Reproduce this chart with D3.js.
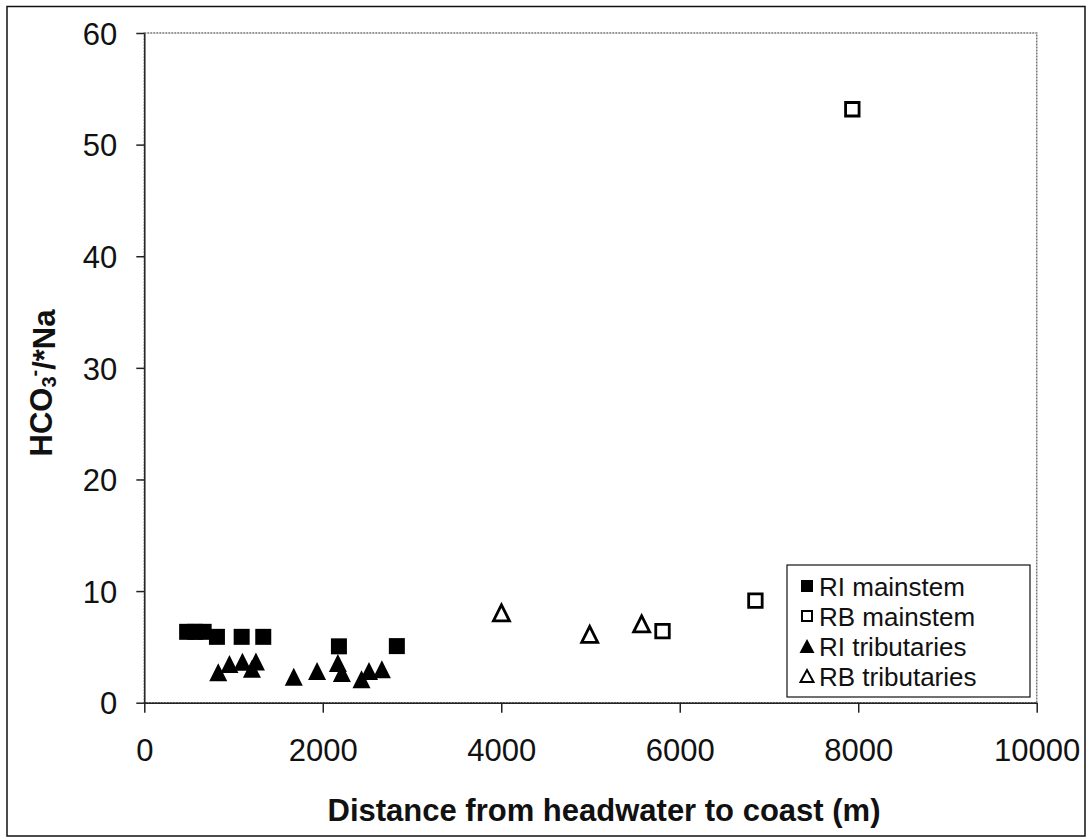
<!DOCTYPE html>
<html>
<head>
<meta charset="utf-8">
<script src="https://cdn.jsdelivr.net/npm/d3@7"></script>
<style>
  body { margin: 0; background: #fff; }
  svg { display: block; font-family: "Liberation Sans", Arial, sans-serif; }
  .axis path, .axis line { stroke: #222; stroke-width: 1.5; }
  .axis text { font-size: 31px; fill: #111; }
</style>
</head>
<body>
<div id="chart"></div>
<script>
// data: [distance (m), HCO3-/*Na]
var riMainstem = [[480, 6.35], [570, 6.35], [665, 6.35], [814, 5.9], [1091, 5.9], [1333, 5.9], [2181, 5.05], [2830, 5.07]];
var rbMainstem = [[5807, 6.42], [6848, 9.15], [7934, 53.17]];
var riTributaries = [[829, 2.72], [954, 3.46], [1100, 3.67], [1206, 3.04], [1251, 3.69], [1675, 2.32], [1936, 2.85],
    [2169, 3.55], [2214, 2.66], [2434, 2.1], [2518, 2.85], [2662, 3.0]];
var rbTributaries = [[4002, 8.05], [4991, 6.13], [5573, 7.06]];

var xTicks = [0, 2000, 4000, 6000, 8000, 10000];
var yTicks = [0, 10, 20, 30, 40, 50, 60];

var seriesNames = ["RI mainstem", "RB mainstem", "RI tributaries", "RB tributaries"];

function drawChart() {
    var W = 1092, H = 839;
    var margin = {top: 33, left: 144.3};
    var width = 892.4, height = 669.7;

    var svg = d3.select("#chart").append("svg")
        .attr("width", W)
        .attr("height", H);

    // outer chart border
    svg.append("rect")
        .attr("x", 7).attr("y", 6.5)
        .attr("width", 1078).attr("height", 829.5)
        .attr("fill", "#fff")
        .attr("stroke", "#111")
        .attr("stroke-width", 1.5);

    var g = svg.append("g")
        .attr("transform", "translate(" + margin.left + "," + margin.top + ")");

    var x = d3.scaleLinear().domain([0, 10000]).range([0, width]);
    var y = d3.scaleLinear().domain([0, 60]).range([height, 0]);

    // plot area border (dotted grey)
    g.append("rect")
        .attr("width", width).attr("height", height)
        .attr("fill", "none")
        .attr("stroke", "#777")
        .attr("stroke-width", 1.5)
        .attr("stroke-dasharray", "2,1");

    g.append("g")
        .attr("class", "axis")
        .call(d3.axisLeft(y).tickValues(yTicks).tickSize(8).tickSizeOuter(0).tickPadding(19))
        .selectAll("text").attr("dy", "0.36em");

    g.append("g")
        .attr("class", "axis")
        .attr("transform", "translate(0," + height + ")")
        .call(d3.axisBottom(x).tickValues(xTicks).tickFormat(d3.format("d")).tickSize(10).tickSizeOuter(0).tickPadding(26));

    g.selectAll(".axis .domain").attr("stroke", "#333");

    function square(s) {
        return "M" + (-s / 2) + "," + (-s / 2) + "h" + s + "v" + s + "h" + (-s) + "Z";
    }
    function triangle(w, h) {
        return "M0," + (-h / 2) + "L" + (w / 2) + "," + (h / 2) + "L" + (-w / 2) + "," + (h / 2) + "Z";
    }

    var styles = [
        {data: riMainstem, path: square(16), fill: "#000", stroke: "none", lpath: square(12)},
        {data: rbMainstem, path: square(13.5), fill: "#fff", stroke: "#000", lpath: square(10)},
        {data: riTributaries, path: triangle(18, 18), fill: "#000", stroke: "none", lpath: triangle(15, 14)},
        {data: rbTributaries, path: triangle(16, 16), fill: "#fff", stroke: "#000", lpath: triangle(13, 12)}
    ];

    styles.forEach(function(s, i) {
        g.selectAll(".pt" + i)
            .data(s.data)
            .enter().append("path")
            .attr("class", "pt" + i)
            .attr("d", s.path)
            .attr("transform", function(d) { return "translate(" + x(d[0]) + "," + y(d[1]) + ")"; })
            .attr("fill", s.fill)
            .attr("stroke", s.stroke)
            .attr("stroke-width", 2.8)
            .attr("stroke-linejoin", "miter");
    });

    // legend
    var legend = svg.append("g").attr("transform", "translate(787,565)");
    legend.append("rect")
        .attr("width", 243).attr("height", 132)
        .attr("fill", "#fff")
        .attr("stroke", "#111")
        .attr("stroke-width", 1.2);

    seriesNames.forEach(function(name, i) {
        var row = legend.append("g").attr("transform", "translate(0," + (21 + i * 30) + ")");
        row.append("path")
            .attr("d", styles[i].lpath)
            .attr("transform", "translate(20,0)")
            .attr("fill", styles[i].fill)
            .attr("stroke", styles[i].stroke)
            .attr("stroke-width", 2);
        row.append("text")
            .attr("x", 32).attr("y", 9.5)
            .style("font-size", "26px")
            .style("fill", "#111")
            .text(name);
    });

    // axis titles
    svg.append("text")
        .attr("x", 604).attr("y", 821)
        .attr("text-anchor", "middle")
        .style("font-size", "31px")
        .style("font-weight", "bold")
        .style("fill", "#111")
        .text("Distance from headwater to coast (m)");

    var yt = svg.append("text")
        .attr("transform", "translate(52,383) rotate(-90)")
        .attr("text-anchor", "middle")
        .style("font-size", "31px")
        .style("font-weight", "bold")
        .style("fill", "#111");
    yt.append("tspan").text("HCO");
    yt.append("tspan").attr("dy", "0.2em").style("font-size", "20px").text("3");
    yt.append("tspan").attr("dy", "-0.75em").style("font-size", "20px").text("-");
    yt.append("tspan").attr("dy", "0.45em").text("/*Na");
}

drawChart();
</script>
</body>
</html>
